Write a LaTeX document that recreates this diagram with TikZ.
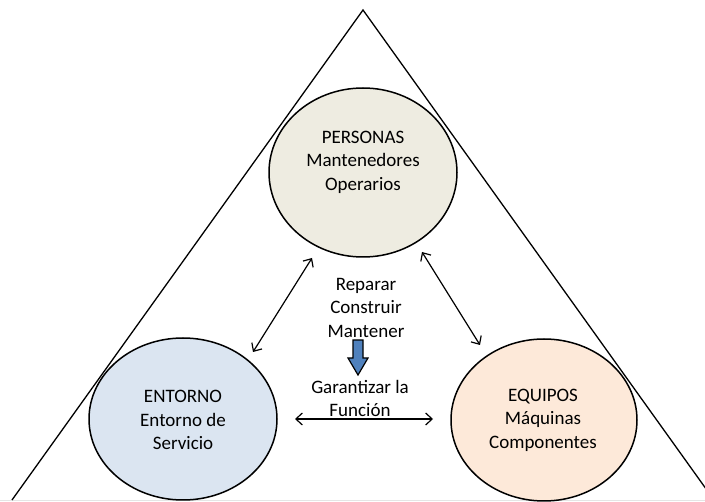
\documentclass[tikz,border=0pt]{standalone}
\usepackage{fontspec}
\setmainfont{Carlito}
\usetikzlibrary{shapes.geometric,arrows.meta}
\definecolor{fondoPer}{RGB}{238,236,225}
\definecolor{fondoEnt}{RGB}{219,229,241}
\definecolor{fondoEqu}{RGB}{253,233,217}
\definecolor{flechaAz}{RGB}{79,129,189}
\tikzset{every picture/.style={line width=1.2pt}}

\begin{document}
\begin{tikzpicture}[x=1pt,y=1pt,yscale=-1,xscale=1,
	elipse/.style={ellipse,draw,line width=1.5pt,inner sep=0pt},
	texto/.style={align=center,font=\fontsize{19}{23.5}\selectfont},
	flecha/.style={{Straight Barb[length=6.5pt,width=12pt]}-{Straight Barb[length=6.5pt,width=12pt]},line width=1.2pt}]
	\useasboundingbox (0,0) rectangle (705,502);

	%Straight Lines: borde inferior
	\draw [gray!20,line width=1pt] (0,501) -- (705,501);
	%Shape: Triangle
	\begin{scope}
	\clip (0,0) rectangle (705,502);
	\draw [line width=1.3pt] (12,500) -- (363,10) -- (714,500);
	\end{scope}

	%Shape: Ellipse
	\node [elipse,fill=fondoPer,minimum width=188pt,minimum height=169pt] (personas) at (363,172.5) {};
	%Shape: Ellipse
	\node [elipse,fill=fondoEnt,minimum width=188pt,minimum height=162pt] (entorno) at (183,419) {};
	%Shape: Ellipse
	\node [elipse,fill=fondoEqu,minimum width=186pt,minimum height=162pt] (equipos) at (544,420) {};

	% Text Node
	\node [texto] (personas-txt) at (363,162) {PERSONAS\\Mantenedores\\Operarios};
	% Text Node
	\node [texto] (entorno-txt) at (183,420) {ENTORNO\\Entorno de\\Servicio};
	% Text Node
	\node [texto] (equipos-txt) at (543,420) {EQUIPOS\\Máquinas\\Componentes};
	% Text Node
	\node [texto] (acciones) at (366,307.5) {Reparar\\Construir\\Mantener};
	% Text Node
	\node [texto] (funcion) at (360,398.5) {Garantizar la\\Función};

	%Shape: Down Arrow
	\draw [fill=flechaAz,line width=1.2pt,line join=miter] (353,340) -- (363,340) -- (363,358) -- (368,358) -- (358,375) -- (348,358) -- (353,358) -- cycle;

	%Straight Lines
	\coordinate (per-izq) at (312,258);
	\coordinate (ent-sup) at (253,352);
	\coordinate (per-der) at (422,252);
	\coordinate (equ-sup) at (480,345);
	\coordinate (ent-der) at (295,419);
	\coordinate (equ-izq) at (433,419);
	\draw [flecha] (per-izq) -- (ent-sup);
	\draw [flecha] (per-der) -- (equ-sup);
	\draw [flecha] (ent-der) -- (equ-izq);

\end{tikzpicture}
\end{document}
